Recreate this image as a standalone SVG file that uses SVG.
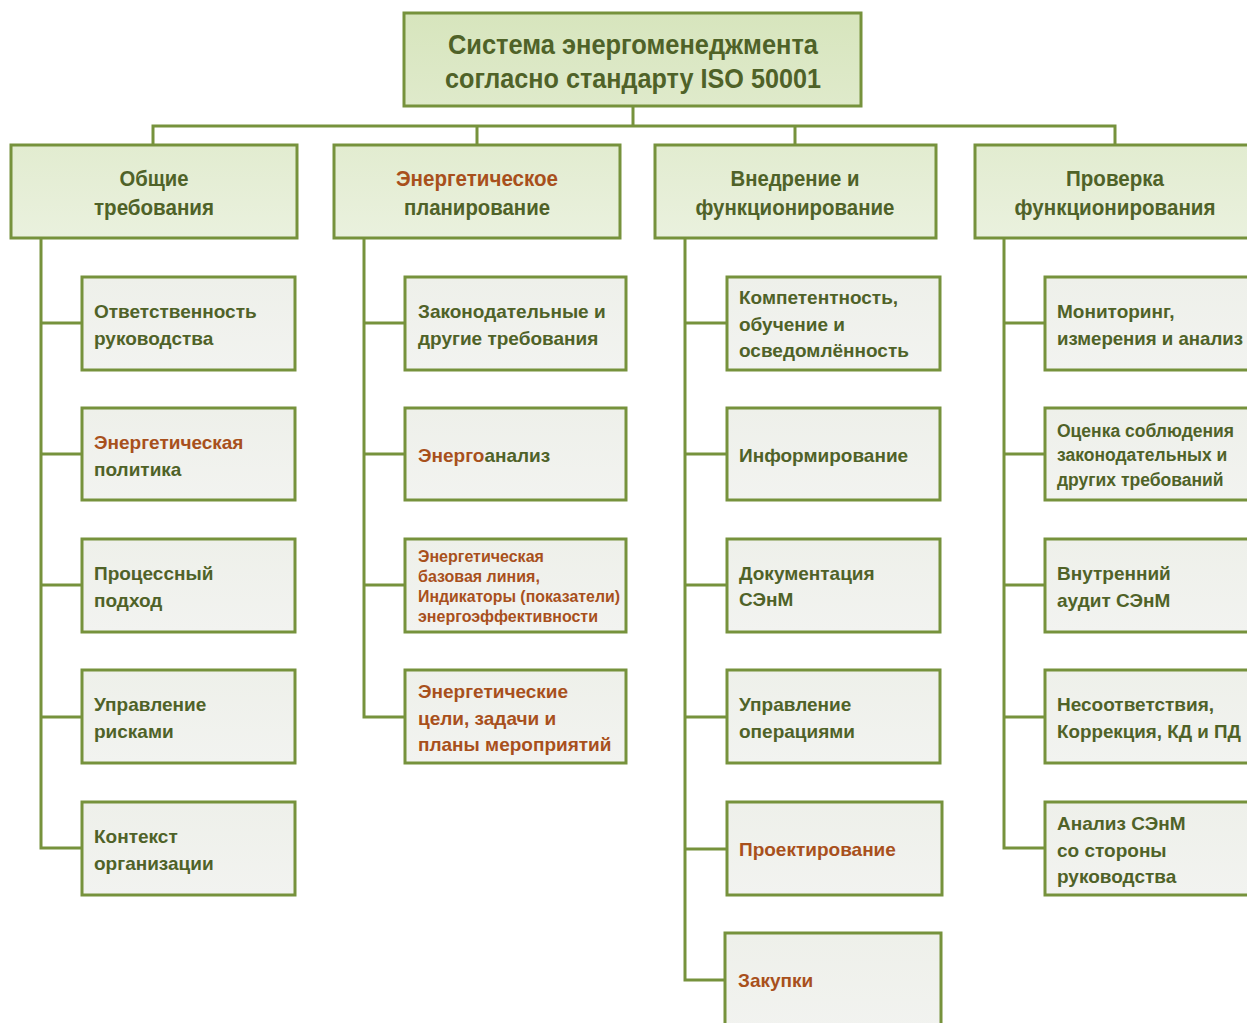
<svg xmlns="http://www.w3.org/2000/svg" width="1247" height="1023" viewBox="0 0 1247 1023">
<defs>
<linearGradient id="gTop" x1="0" y1="0" x2="0" y2="1">
<stop offset="0" stop-color="#d7e5bd"/><stop offset="1" stop-color="#dfeacb"/>
</linearGradient>
<linearGradient id="gHead" x1="0" y1="0" x2="0" y2="1">
<stop offset="0" stop-color="#e2ecd0"/><stop offset="1" stop-color="#eaf1de"/>
</linearGradient>
<linearGradient id="gChild" x1="0" y1="0" x2="0" y2="1">
<stop offset="0" stop-color="#eef0ea"/><stop offset="1" stop-color="#f2f3f0"/>
</linearGradient>
</defs>
<style>
.top{fill:url(#gTop);stroke:#76923c;stroke-width:3}
.head{fill:url(#gHead);stroke:#76923c;stroke-width:3}
.child{fill:url(#gChild);stroke:#76923c;stroke-width:3}
.ln{fill:none;stroke:#76923c;stroke-width:3;stroke-linecap:square}
text{font-family:"Liberation Sans",Arial,sans-serif;font-weight:bold;fill:#4f6228}
.t1{font-size:28px;text-anchor:middle}
.t2{font-size:22px;text-anchor:middle}
.t3{font-size:19px}
.t4{font-size:17.5px}
.t5{font-size:16px}
.or{fill:#a8501c}
</style>
<g id="connectors">
<path class="ln" d="M633 106V126M153 126H1115M153 126V145M477 126V145M795 126V145M1115 126V145"/>
<path class="ln" d="M41 238V848M41 323H82M41 454H82M41 585H82M41 717H82M41 848H82"/>
<path class="ln" d="M364 238V717M364 323H405M364 454H405M364 585H405M364 717H405"/>
<path class="ln" d="M685 238V980M685 323H727M685 454H727M685 585H727M685 717H727M685 849H727M685 980H725"/>
<path class="ln" d="M1004 238V848M1004 323H1045M1004 454H1045M1004 585H1045M1004 717H1045M1004 848H1045"/>
</g>
<g id="root"><rect class="top" x="404" y="13" width="457" height="93"/>
<text class="t1" x="633" y="54" textLength="370" lengthAdjust="spacingAndGlyphs">Система энергоменеджмента</text>
<text class="t1" x="633" y="88" textLength="376" lengthAdjust="spacingAndGlyphs">согласно стандарту ISO 50001</text></g>

<g id="h1"><rect class="head" x="11" y="145" width="286" height="93"/>
<text class="t2" x="154" y="186" textLength="69" lengthAdjust="spacingAndGlyphs">Общие</text><text class="t2" x="154" y="215" textLength="120" lengthAdjust="spacingAndGlyphs">требования</text></g>
<g id="h2"><rect class="head" x="334" y="145" width="286" height="93"/>
<text class="t2 or" x="477" y="186" textLength="162" lengthAdjust="spacingAndGlyphs">Энергетическое</text><text class="t2" x="477" y="215" textLength="146" lengthAdjust="spacingAndGlyphs">планирование</text></g>
<g id="h3"><rect class="head" x="655" y="145" width="281" height="93"/>
<text class="t2" x="795" y="186" textLength="129" lengthAdjust="spacingAndGlyphs">Внедрение и</text><text class="t2" x="795" y="215" textLength="199" lengthAdjust="spacingAndGlyphs">функционирование</text></g>
<g id="h4"><rect class="head" x="975" y="145" width="285" height="93"/>
<text class="t2" x="1115" y="186" textLength="98" lengthAdjust="spacingAndGlyphs">Проверка</text><text class="t2" x="1115" y="215" textLength="201" lengthAdjust="spacingAndGlyphs">функционирования</text></g>

<g id="c1a"><rect class="child" x="82" y="277" width="213" height="93"/>
<text class="t3" x="94" y="318">Ответственность</text><text class="t3" x="94" y="345">руководства</text></g>
<g id="c1b"><rect class="child" x="82" y="408" width="213" height="92"/>
<text class="t3 or" x="94" y="449">Энергетическая</text><text class="t3" x="94" y="476">политика</text></g>
<g id="c1c"><rect class="child" x="82" y="539" width="213" height="93"/>
<text class="t3" x="94" y="580">Процессный</text><text class="t3" x="94" y="607">подход</text></g>
<g id="c1d"><rect class="child" x="82" y="670" width="213" height="93"/>
<text class="t3" x="94" y="711">Управление</text><text class="t3" x="94" y="738">рисками</text></g>
<g id="c1e"><rect class="child" x="82" y="802" width="213" height="93"/>
<text class="t3" x="94" y="843">Контекст</text><text class="t3" x="94" y="870">организации</text></g>

<g id="c2a"><rect class="child" x="405" y="277" width="221" height="93"/>
<text class="t3" x="418" y="318">Законодательные и</text><text class="t3" x="418" y="345">другие требования</text></g>
<g id="c2b"><rect class="child" x="405" y="408" width="221" height="92"/>
<text class="t3" x="418" y="462"><tspan class="or">Энерго</tspan>анализ</text></g>
<g id="c2c"><rect class="child" x="405" y="539" width="221" height="93"/>
<text class="t5 or" x="418" y="562">Энергетическая</text><text class="t5 or" x="418" y="582">базовая линия,</text>
<text class="t5 or" x="418" y="602" textLength="202" lengthAdjust="spacingAndGlyphs">Индикаторы (показатели)</text><text class="t5 or" x="418" y="622">энергоэффективности</text></g>
<g id="c2d"><rect class="child" x="405" y="670" width="221" height="93"/>
<text class="t3 or" x="418" y="698">Энергетические</text><text class="t3 or" x="418" y="725">цели, задачи и</text><text class="t3 or" x="418" y="751">планы мероприятий</text></g>

<g id="c3a"><rect class="child" x="727" y="277" width="213" height="93"/>
<text class="t3" x="739" y="304">Компетентность,</text><text class="t3" x="739" y="331">обучение и</text><text class="t3" x="739" y="357">осведомлённость</text></g>
<g id="c3b"><rect class="child" x="727" y="408" width="213" height="92"/>
<text class="t3" x="739" y="462">Информирование</text></g>
<g id="c3c"><rect class="child" x="727" y="539" width="213" height="93"/>
<text class="t3" x="739" y="580">Документация</text><text class="t3" x="739" y="606">СЭнМ</text></g>
<g id="c3d"><rect class="child" x="727" y="670" width="213" height="93"/>
<text class="t3" x="739" y="711">Управление</text><text class="t3" x="739" y="738">операциями</text></g>
<g id="c3e"><rect class="child" x="727" y="802" width="215" height="93"/>
<text class="t3 or" x="739" y="856">Проектирование</text></g>
<g id="c3f"><rect class="child" x="725" y="933" width="216" height="100"/>
<text class="t3 or" x="738" y="987">Закупки</text></g>

<g id="c4a"><rect class="child" x="1045" y="277" width="215" height="93"/>
<text class="t3" x="1057" y="318">Мониторинг,</text><text class="t3" x="1057" y="345" textLength="186" lengthAdjust="spacingAndGlyphs">измерения и анализ</text></g>
<g id="c4b"><rect class="child" x="1045" y="408" width="215" height="92"/>
<text class="t4" x="1057" y="437">Оценка соблюдения</text><text class="t4" x="1057" y="461">законодательных и</text><text class="t4" x="1057" y="486">других требований</text></g>
<g id="c4c"><rect class="child" x="1045" y="539" width="215" height="93"/>
<text class="t3" x="1057" y="580">Внутренний</text><text class="t3" x="1057" y="607">аудит СЭнМ</text></g>
<g id="c4d"><rect class="child" x="1045" y="670" width="215" height="93"/>
<text class="t3" x="1057" y="711">Несоответствия,</text><text class="t3" x="1057" y="738" textLength="184" lengthAdjust="spacingAndGlyphs">Коррекция, КД и ПД</text></g>
<g id="c4e"><rect class="child" x="1045" y="802" width="215" height="93"/>
<text class="t3" x="1057" y="830">Анализ СЭнМ</text><text class="t3" x="1057" y="857">со стороны</text><text class="t3" x="1057" y="883">руководства</text></g>
</svg>
